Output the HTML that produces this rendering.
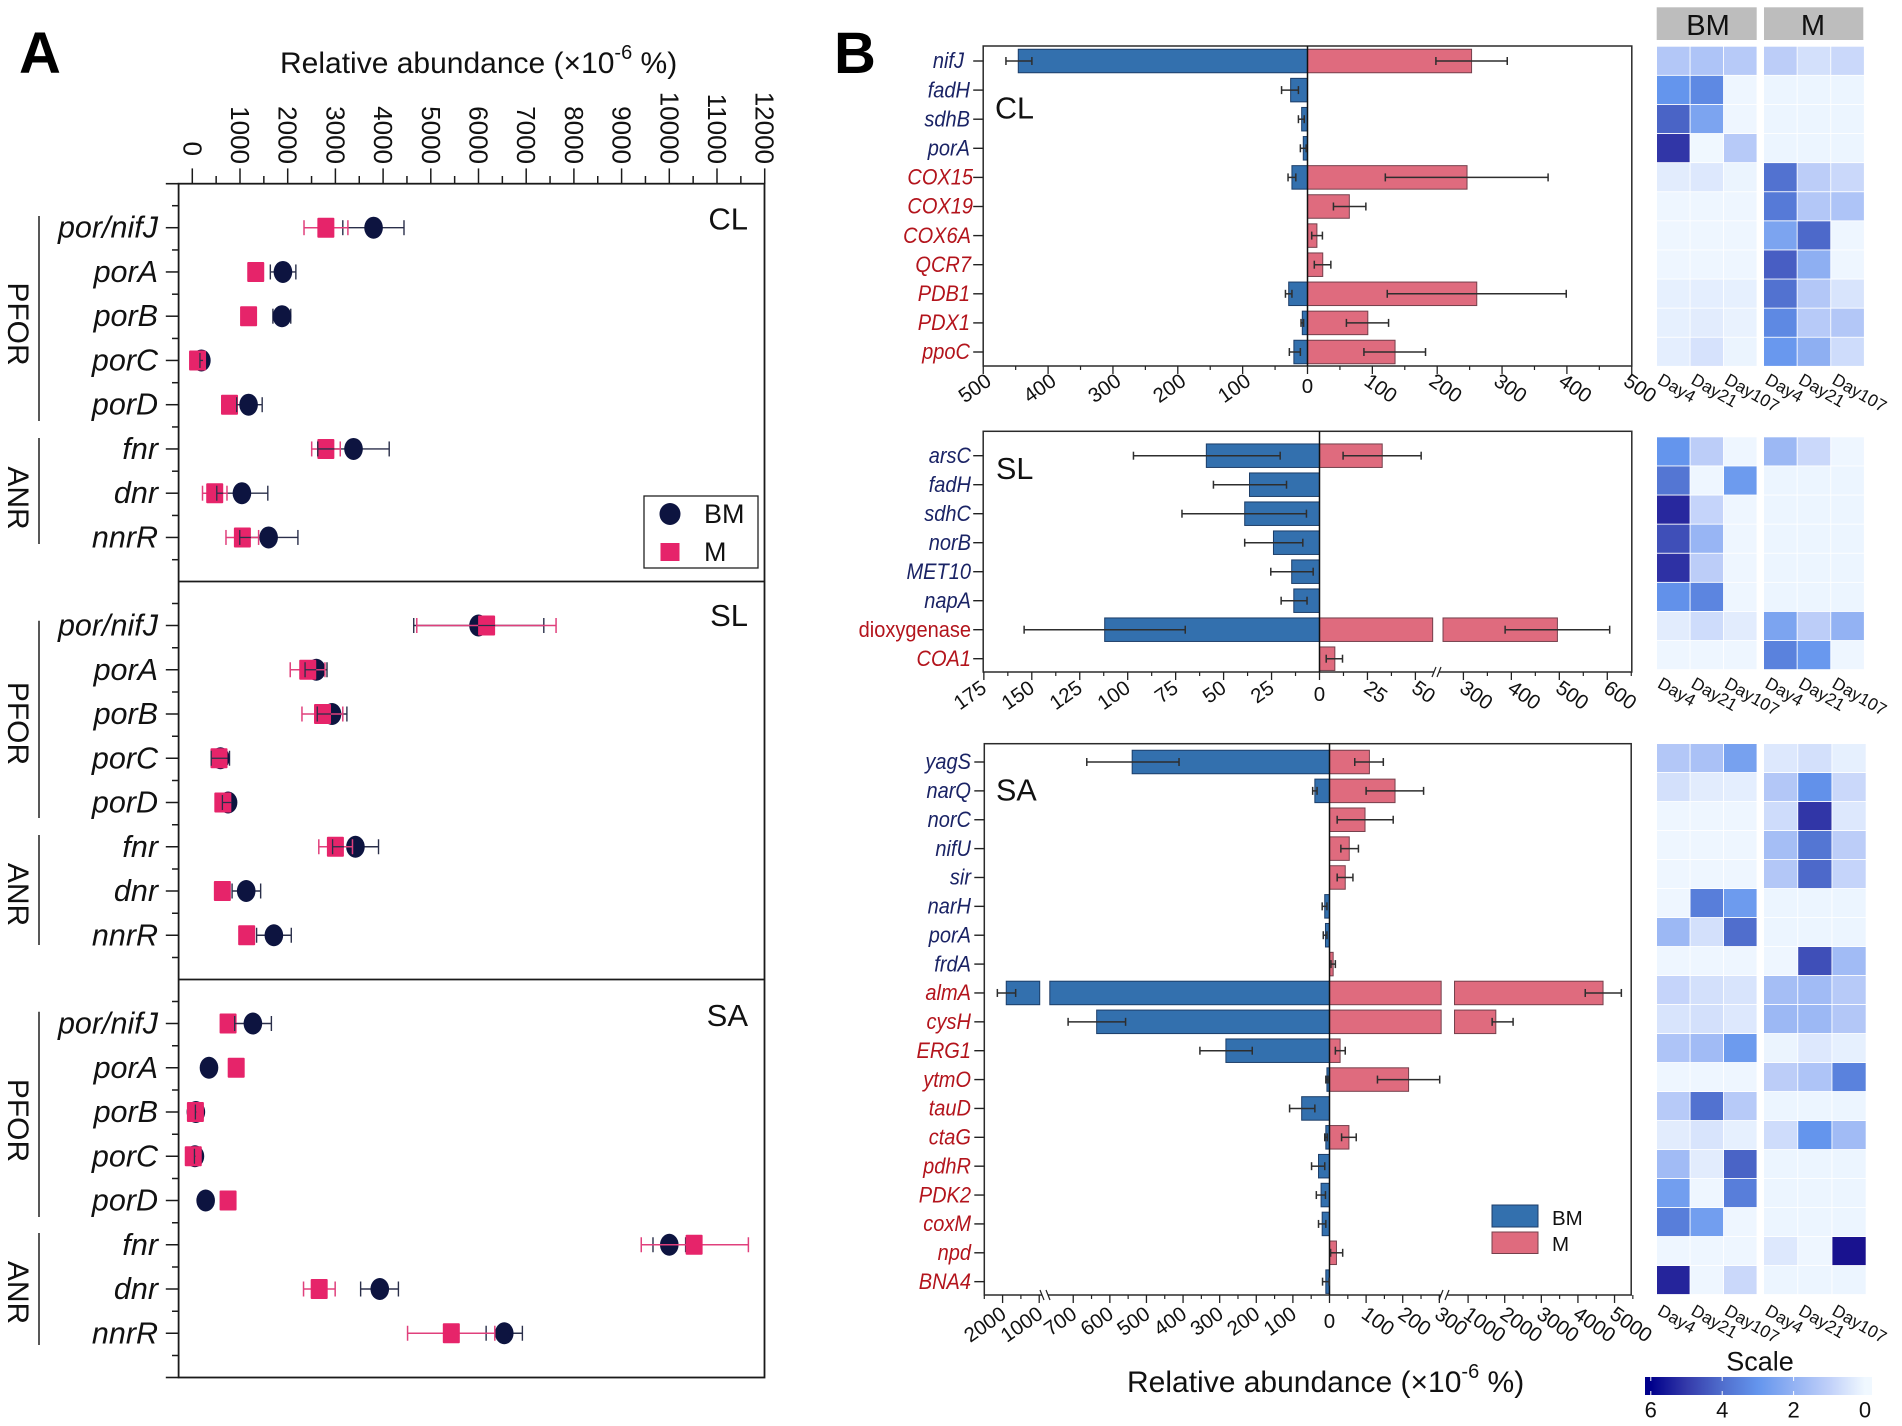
<!DOCTYPE html>
<html lang="en">
<head>
<meta charset="utf-8">
<title>Relative abundance panels A and B</title>
<style>
html,body{margin:0;padding:0;background:#fff;}
svg{display:block;font-family:"Liberation Sans",Arial,sans-serif;}
</style>
</head>
<body>
<svg id="root" width="1902" height="1426" viewBox="0 0 1902 1426">
  <defs><linearGradient id="scaleGrad" gradientUnits="userSpaceOnUse" x1="1645" x2="1872" y1="0" y2="0"></linearGradient></defs>
  <g id="panelA">
    <text x="280" y="73" font-size="30" fill="#111">Relative abundance (×10<tspan font-size="20" dy="-14">-6</tspan><tspan dy="14"> %)</tspan></text>
    <text x="19" y="73" font-size="58" font-weight="bold" fill="#000">A</text>
  </g>
  <g id="panelB">
    <text x="834" y="73" font-size="58" font-weight="bold" fill="#000">B</text>
    <text x="1127" y="1392" font-size="30" fill="#111">Relative abundance (×10<tspan font-size="20" dy="-14">-6</tspan><tspan dy="14"> %)</tspan></text>
  </g>
  <g id="panelHeat"></g>
</svg>
<script>
// ---------- Panel A data ----------
const aGenes = ['por/nifJ','porA','porB','porC','porD','fnr','dnr','nnrR'];
const aTicks = [0,1000,2000,3000,4000,5000,6000,7000,8000,9000,10000,11000,12000];

const clBM = [3800,1900,1880,190,1180,3380,1040,1600];
const clBMLow = [3155,1636,1690,160,930,2631,513,995];
const clBMHigh = [4438,2171,2064,225,1465,4128,1583,2214];
const clM = [2800,1330,1180,110,780,2800,470,1050];
const clMLow = [2342,1330,1180,110,780,2503,214,706];
const clMHigh = [3262,1330,1180,110,780,3102,727,1390];

const slBM = [6000,2600,2930,590,750,3420,1130,1710];
const slBMLow = [4642,2364,2620,396,631,2941,834,1348];
const slBMHigh = [7369,2824,3241,780,866,3904,1433,2075];
const slM = [6170,2420,2730,560,640,3000,630,1140];
const slMLow = [4706,2053,2299,560,588,2652,630,1140];
const slMHigh = [7626,2781,3155,560,695,3358,630,1140];

const saBM = [1270,350,75,55,280,10000,3930,6540];
const saBMLow = [888,350,65,45,280,9658,3529,6160];
const saBMHigh = [1658,350,85,65,280,10342,4321,6920];
const saM = [750,920,65,20,750,10520,2660,5430];
const saMLow = [750,920,65,20,750,9412,2332,4513];
const saMHigh = [750,920,65,20,750,11658,2995,6342];

// ---------- Panel B data: CL ----------
const clBarGenes = ['nifJ','fadH','sdhB','porA','COX15','COX19','COX6A','QCR7','PDB1','PDX1','ppoC'];
const clBarBlueCount = 4;
const clBarBM = [446,26,9,6.5,24,0,0,0,29,8,21];
const clBarBMLow = [425,14,5,2,18,0,0,0,24,6,11];
const clBarBMHigh = [465,40,14,11,30,0,0,0,34,10,28];
const clBarM = [253,0,0,0,246,64.5,14.5,23.5,261,93,135];
const clBarMLow = [198,0,0,0,120,40,6.5,10.5,123,60,87];
const clBarMHigh = [308,0,0,0,371,90,23,36,399,125,182];
const clTickLeft = [500,400,300,200,100];
const clTickRight = [100,200,300,400,500];
const clMinorLeft = [450,350,250,150,50];
const clMinorRight = [50,150,250,350,450];

// ---------- Panel B data: SL ----------
const slBarGenes = ['arsC','fadH','sdhC','norB','MET10','napA','dioxygenase','COA1'];
const slBarBlueCount = 6;
const slBarBM = [59,36.5,39,24,14.5,13.4,112,0];
const slBarBMLow = [20.5,17.2,6.8,8.7,3.3,6.5,70,0];
const slBarBMHigh = [97,55.3,71.7,39,25.4,20,154,0];
const slBarM = [32.7,0,0,0,0,0,496,8];
const slBarMLow = [12.3,0,0,0,0,0,387,3.5];
const slBarMHigh = [53,0,0,0,0,0,605,12];
const slTickLeft = [175,150,125,100,75,50,25];
const slTickRight = [25,50,300,400,500,600];
const slMinorLeft = [162.5,137.5,112.5,87.5,62.5,37.5,12.5];
const slMinorRight = [12.5,37.5,350,450,550,650];

// ---------- Panel B data: SA ----------
const saBarGenes = ['yagS','narQ','norC','nifU','sir','narH','porA','frdA','almA','cysH','ERG1','ytmO','tauD','ctaG','pdhR','PDK2','coxM','npd','BNA4'];
const saBarBlueCount = 8;
const saBarBM = [539,40,0,0,0,13,11,0,1900,636,283,7,76,10,30,23,20,0,10];
const saBarBMLow = [411,34,0,0,0,7,7,0,1643,557,211,4,40,6,13,11,10,0,1];
const saBarBMHigh = [663,46,0,0,0,20,17,0,2143,714,354,10,109,13,49,36,30,0,19];
const saBarM = [109,179,97,54,43,0,0,10,4686,1757,29,216,0,53,0,0,0,19,0];
const saBarMLow = [69,100,21,31,21,0,0,4,4200,1657,16,131,0,33,0,0,0,3,0];
const saBarMHigh = [147,257,174,79,64,0,0,16,5186,2229,43,301,0,73,0,0,0,36,0];
const saTickLeft = [2000,1000,700,600,500,400,300,200,100];
const saTickRight = [100,200,300,1000,2000,3000,4000,5000];
const saMinorLeft = [2500,1500,650,550,450,350,250,150,50];
const saMinorRight = [50,150,250,1500,2500,3500,4500,5500];

// ---------- Heatmap data (one row per gene: Day4, Day21, Day107) ----------
const heatDays = ['Day4','Day21','Day107'];
const scaleTicks = [6,4,2,0];
const clHeatBM = [[1.3,1.4,1.2],[3.0,3.3,.05],[4.2,2.5,.05],[5.1,0,1.2],[.3,.4,.1],[.05,.05,.05],[.05,.05,.05],[.05,.05,.05],[.2,.25,.2],[.2,.3,.15],[.25,.55,.1]];
const clHeatM = [[1.1,.6,.8],[.08,.08,.08],[.08,.08,.08],[.08,.08,.08],[3.9,1.1,.8],[3.7,1.3,1.4],[2.5,4.1,.05],[4.3,2.1,.05],[3.9,1.3,.5],[3.3,1.2,1.3],[2.9,2.1,.7]];
const slHeatBM = [[3.0,1.1,.05],[3.8,.05,2.8],[5.4,.9,.05],[4.6,1.9,.05],[5.2,1.1,.05],[3.1,3.4,.05],[.3,.7,.3],[.05,.05,.05]];
const slHeatM = [[1.8,.8,.05],[.08,.08,.08],[.08,.08,.08],[.08,.08,.08],[.08,.08,.08],[.08,.08,.08],[2.5,1.1,2.0],[3.5,2.9,.05]];
const saHeatBM = [[1.3,1.5,2.6],[.6,.3,.25],[.05,.05,.05],[.05,.05,.05],[.05,.05,.05],[.05,3.6,2.8],[1.8,.6,4.0],[.05,.05,.05],[.9,.6,.5],[.5,.6,.4],[1.4,1.7,2.8],[.05,.05,.05],[1.2,3.9,1.2],[.3,.5,.2],[1.7,.3,4.2],[2.7,.05,3.6],[3.6,2.7,.05],[.05,.05,.05],[5.5,.05,.8]];
const saHeatM = [[.4,.6,.2],[1.3,3.1,.8],[.7,5.1,.4],[1.6,3.8,1.1],[1.3,4.1,.9],[.08,.08,.08],[.08,.08,.08],[.05,4.6,1.7],[1.6,1.7,1.2],[1.8,1.8,1.3],[.1,.4,.2],[1.1,1.4,3.5],[.08,.08,.08],[.7,3.0,1.7],[.08,.08,.08],[.08,.08,.08],[.08,.08,.08],[.4,.05,5.9],[.08,.08,.08]];

// ---------- Helpers ----------
const root = document.getElementById('root');
const NS = root.namespaceURI;
const panelA = document.getElementById('panelA');
const panelB = document.getElementById('panelB');
const panelHeat = document.getElementById('panelHeat');

function mk(tag, parent, name, attrs, txt) {
  const el = document.createElementNS(NS, tag);
  for (const k in attrs) el.setAttribute(k, attrs[k]);
  
  
  if (txt !== undefined) el.textContent = txt;
  parent.appendChild(el);
  return el;
}
function group(parent, name) { return mk('g', parent, name, {}); }
function seg(parent, name, x1, y1, x2, y2, stroke, w) {
  return mk('line', parent, name, {x1:x1, y1:y1, x2:x2, y2:y2, stroke:stroke, 'stroke-width':w});
}
function errH(parent, name, x1, x2, y, capH, stroke, w) {
  if (Math.abs(x2 - x1) < 0.01) return;
  const g = group(parent, name);
  seg(g, name + '-stem', x1, y, x2, y, stroke, w);
  seg(g, name + '-cap-low', x1, y - capH / 2, x1, y + capH / 2, stroke, w);
  seg(g, name + '-cap-high', x2, y - capH / 2, x2, y + capH / 2, stroke, w);
}

// ---------- Panel A ----------
const AX0 = 192.3, AXK = 0.0477;
const xA = v => AX0 + v * AXK;
const A_LEFT = 178.6, A_RIGHT = 764.5, A_STEP = 44.25;
const A_DARK = '#0d1440', A_PINK = '#e6246a', A_AXIS = '#1a1a1a';

function drawAFrame() {
  const g = group(panelA, 'panel-a-axes');
  mk('rect', g, 'panel-a-frame', {x:A_LEFT, y:183.7, width:A_RIGHT - A_LEFT, height:1193.8, fill:'none', stroke:A_AXIS, 'stroke-width':1.8});
  seg(g, 'divider-cl-sl', A_LEFT, 581.5, A_RIGHT, 581.5, A_AXIS, 1.8);
  seg(g, 'divider-sl-sa', A_LEFT, 979.5, A_RIGHT, 979.5, A_AXIS, 1.8);
  seg(g, 'frame-tick-top', 165.8, 183.7, A_LEFT, 183.7, A_AXIS, 1.6);
  seg(g, 'frame-tick-bottom', 165.8, 1377.5, A_LEFT, 1377.5, A_AXIS, 1.6);
  aTicks.forEach((t, i) => {
    const x = xA(t);
    seg(g, 'x-tick-' + t, x, 168.4, x, 183.7, A_AXIS, 1.5);
    if (i < aTicks.length - 1) {
      const mx = xA((t + aTicks[i + 1]) / 2);
      seg(g, 'x-minor-tick-' + t, mx, 176, mx, 183.7, A_AXIS, 1.5);
    }
    const endY = t === 0 ? 156 : 164;
    mk('text', g, 'x-tick-label-' + t, {transform:'translate(' + (x - 9) + ',' + endY + ') rotate(90)', 'font-size':26, 'text-anchor':'end', fill:'#111'}, String(t));
  });
}

function drawASection(label, top, bm, bmLow, bmHigh, m, mLow, mHigh, pforRange, pforLine, anrRange, anrLine, labelY) {
  const g = group(panelA, 'section-' + label);
  mk('text', g, 'section-label-' + label, {x:748, y:labelY, 'font-size':31, 'text-anchor':'end', fill:'#111'}, label);
  const row = i => top + 44 + i * A_STEP;
  for (let i = 0; i <= aGenes.length; i++) {
    const my = top + 22 + i * A_STEP;
    seg(g, 'y-minor-tick', 172, my, A_LEFT, my, A_AXIS, 1.5);
  }
  aGenes.forEach((gene, i) => {
    const y = row(i);
    seg(g, 'y-tick-' + gene, 165.8, y, A_LEFT, y, A_AXIS, 1.5);
    mk('text', g, 'gene-label-' + gene, {x:158, y:y + 10, 'font-size':30.5, 'font-style':'italic', 'text-anchor':'end', fill:'#111'}, gene);
    errH(g, 'error-bm-' + gene, xA(bmLow[i]), xA(bmHigh[i]), y, 15, '#2a2f4a', 1.4);
    mk('ellipse', g, 'point-bm-' + gene, {cx:xA(bm[i]), cy:y, rx:9.3, ry:11, fill:A_DARK});
    errH(g, 'error-m-' + gene, xA(mLow[i]), xA(mHigh[i]), y, 15, '#e0407c', 1.5);
    mk('rect', g, 'point-m-' + gene, {x:xA(m[i]) - 8.5, y:y - 10, width:17, height:20, rx:1, fill:A_PINK});
    const sl = Math.max(xA(m[i]) - 8.5, xA(bmLow[i]));
    const sr = Math.min(xA(m[i]) + 8.5, xA(bmHigh[i]));
    if (sr > sl && bmHigh[i] > bmLow[i]) {
      seg(g, 'error-bm-overlay-' + gene, sl, y, sr, y, '#2a2f4a', 1.3);
      if (xA(bmLow[i]) >= sl && xA(bmLow[i]) <= sr) seg(g, 'error-bm-overlay-cap-' + gene, xA(bmLow[i]), y - 7.5, xA(bmLow[i]), y + 7.5, '#2a2f4a', 1.3);
    }
  });
  const groupLabel = (name, range, ln) => {
    mk('text', g, 'group-label-' + name, {transform:'translate(8,' + ((range[0] + range[1]) / 2 - 1) + ') rotate(90)', 'font-size':30, 'text-anchor':'middle', fill:'#111'}, name);
    seg(g, 'group-line-' + name, 39, ln[0], 39, ln[1], '#111', 1.4);
  };
  groupLabel('PFOR', pforRange, pforLine);
  groupLabel('ANR', anrRange, anrLine);
}

function drawALegend() {
  const g = group(panelA, 'panel-a-legend');
  mk('rect', g, 'legend-box', {x:644, y:496, width:114, height:72, fill:'#fff', stroke:'#222', 'stroke-width':1.3});
  mk('ellipse', g, 'legend-marker-bm', {cx:670, cy:514, rx:10.5, ry:11, fill:A_DARK});
  mk('rect', g, 'legend-marker-m', {x:660.5, y:543, width:19, height:18, fill:A_PINK});
  mk('text', g, 'legend-label-bm', {x:704, y:523, 'font-size':27, fill:'#111'}, 'BM');
  mk('text', g, 'legend-label-m', {x:704, y:561, 'font-size':27, fill:'#111'}, 'M');
}

drawAFrame();
drawASection('CL', 183.7, clBM, clBMLow, clBMHigh, clM, clMLow, clMHigh, [285,365], [216,421], [468,530], [438,544], 229.6);
drawASection('SL', 581.5, slBM, slBMLow, slBMHigh, slM, slMLow, slMHigh, [684,765], [620.7,818], [865,926], [835,945], 626);
drawASection('SA', 979.5, saBM, saBMLow, saBMHigh, saM, saMLow, saMHigh, [1081,1162], [1011.7,1217], [1263,1324], [1233,1345], 1026);
drawALegend();

// ---------- Panel B axis functions ----------
function linearLeft(zero, k) { return v => zero - v * k; }
function linearRight(zero, k) { return v => zero + v * k; }
function brokenLeft(zero, k, refV, refX, k2, lowEnd) {
  return v => v <= lowEnd ? zero - v * k : refX - (v - refV) * k2;
}
function brokenRight(zero, k, refV, refX, k2, lowEnd) {
  return v => v <= lowEnd ? zero + v * k : refX + (v - refV) * k2;
}

const BLUE_BAR = '#3370ae', BLUE_EDGE = '#1c3d68', PINK_BAR = '#df6b7e', PINK_EDGE = '#74404c';
const BLUE_TXT = '#1a2365', RED_TXT = '#b3141c', ERR = '#2e2e2e';

function drawBar(g, name, zero, fn, v, y, h, fill, edge, gapLow, gapHigh) {
  if (!v) return;
  const rectBetween = (nm, a, b) => mk('rect', g, nm, {x:Math.min(a, b), y:y - h / 2, width:Math.abs(b - a), height:h, fill:fill, stroke:edge, 'stroke-width':1});
  if (gapLow !== null && v > gapLow) {
    rectBetween(name + '-low', zero, fn(gapLow));
    rectBetween(name + '-high', fn(gapHigh), fn(v));
  } else {
    rectBetween(name, zero, fn(v));
  }
}

function drawBarPanel(p) {
  const g = group(panelB, 'bar-panel-' + p.label);
  mk('rect', g, 'frame-' + p.label, {x:p.left, y:p.top, width:p.right - p.left, height:p.bottom - p.top, fill:'none', stroke:'#2b2b2b', 'stroke-width':1.5});
  mk('text', g, 'panel-label-' + p.label, {x:p.labelX, y:p.labelY, 'font-size':30.5, fill:'#111'}, p.label);
  p.genes.forEach((gene, i) => {
    const y = p.rowY + i * p.step;
    const isBlue = i < p.blueCount;
    seg(g, 'y-tick-' + gene, p.left - 10, y, p.left, y, '#222', 1.4);
    const nudge = (p.nudge && p.nudge[gene]) || 0;
    mk('text', g, 'gene-label-' + gene, {transform:'translate(' + (p.geneRight + nudge) + ',' + (y + 7.2) + ') scale(0.91,1)', 'font-size':22, 'font-style':gene === 'dioxygenase' ? 'normal' : 'italic', 'text-anchor':'end', fill:isBlue ? BLUE_TXT : RED_TXT}, gene);
    drawBar(g, 'bar-bm-' + gene, p.zero, p.fnL, p.bm[i], y, p.barH, BLUE_BAR, BLUE_EDGE, p.gapL[0], p.gapL[1]);
    drawBar(g, 'bar-m-' + gene, p.zero, p.fnR, p.m[i], y, p.barH, PINK_BAR, PINK_EDGE, p.gapR[0], p.gapR[1]);
  });
  seg(g, 'zero-line-' + p.label, p.zero, p.top, p.zero, p.bottom, '#111', 1.5);
  p.genes.forEach((gene, i) => {
    const y = p.rowY + i * p.step;
    if (p.bm[i]) errH(g, 'error-bm-' + gene, p.fnL(p.bmLow[i]), p.fnL(p.bmHigh[i]), y, 8, ERR, 1.5);
    if (p.m[i]) errH(g, 'error-m-' + gene, p.fnR(p.mLow[i]), p.fnR(p.mHigh[i]), y, 8, ERR, 1.5);
  });
  // x axis ticks
  const tickMajor = (x, nm) => seg(g, nm, x, p.bottom, x, p.bottom + 8, '#222', 1.3);
  const tickMinor = (x, nm) => seg(g, nm, x, p.bottom, x, p.bottom + 4, '#222', 1.2);
  tickMajor(p.zero, 'x-tick-zero-' + p.label);
  mk('text', g, 'x-tick-label-zero-' + p.label, {x:p.zero, y:p.bottom + p.zeroDy, 'font-size':20.5, 'text-anchor':'middle', fill:'#111'}, '0');
  p.ticksL.forEach(t => {
    const x = p.fnL(t);
    tickMajor(x, 'x-tick-left-' + t);
    mk('text', g, 'x-tick-label-left-' + t, {transform:'translate(' + (x + p.ldx) + ',' + (p.bottom + p.ldy) + ') rotate(-35)', 'font-size':20.5, 'text-anchor':'end', fill:'#111'}, String(t));
  });
  p.ticksR.forEach(t => {
    const x = p.fnR(t);
    tickMajor(x, 'x-tick-right-' + t);
    mk('text', g, 'x-tick-label-right-' + t, {transform:'translate(' + (x + p.rdx) + ',' + (p.bottom + p.ldy) + ') rotate(35)', 'font-size':20.5, 'text-anchor':'start', fill:'#111'}, String(t));
  });
  p.minorL.forEach(t => tickMinor(p.fnL(t), 'x-minor-tick-left-' + t));
  p.minorR.forEach(t => tickMinor(p.fnR(t), 'x-minor-tick-right-' + t));
  p.breaks.forEach((b, i) => {
    mk('rect', g, 'axis-break-gap-' + p.label + '-' + i, {x:b.x, y:p.bottom - 2, width:b.w, height:4, fill:'#fff'});
    const d = b.dir;
    seg(g, 'axis-break-slash-' + p.label + '-' + i + 'a', b.x - d * 2, p.bottom + 5, b.x + d * 2, p.bottom - 5, '#222', 1.2);
    seg(g, 'axis-break-slash-' + p.label + '-' + i + 'b', b.x + b.w - d * 2, p.bottom + 5, b.x + b.w + d * 2, p.bottom - 5, '#222', 1.2);
  });
}

drawBarPanel({label:'CL', left:983.2, right:1631.8, top:46, bottom:366, zero:1307.5,
  fnL:linearLeft(1307.5,0.6485), fnR:linearRight(1307.5,0.6485), gapL:[null,null], gapR:[null,null],
  genes:clBarGenes, blueCount:clBarBlueCount, bm:clBarBM, bmLow:clBarBMLow, bmHigh:clBarBMHigh, m:clBarM, mLow:clBarMLow, mHigh:clBarMHigh,
  ticksL:clTickLeft, ticksR:clTickRight, minorL:clMinorLeft, minorR:clMinorRight,
  rowY:61, step:29.1, barH:23.5, geneRight:970, nudge:{nifJ:-6, COX15:3, COX19:3, COX6A:1, QCR7:1}, labelX:995, labelY:118.3, ldx:9.5, rdx:-9.5, ldy:18, zeroDy:27, breaks:[]});

drawBarPanel({label:'SL', left:983.2, right:1631.8, top:431.3, bottom:672, zero:1319.5,
  fnL:linearLeft(1319.5,1.918), fnR:brokenRight(1319.5,1.918,300,1463.4,0.4796,59), gapL:[null,null], gapR:[59,257.5],
  genes:slBarGenes, blueCount:slBarBlueCount, bm:slBarBM, bmLow:slBarBMLow, bmHigh:slBarBMHigh, m:slBarM, mLow:slBarMLow, mHigh:slBarMHigh,
  ticksL:slTickLeft, ticksR:slTickRight, minorL:slMinorLeft, minorR:slMinorRight,
  rowY:455.7, step:29, barH:23.5, geneRight:971, labelX:996, labelY:479, ldx:4, rdx:-5, ldy:19, zeroDy:29, breaks:[{x:1434,w:5,dir:1}]});

drawBarPanel({label:'SA', left:984.3, right:1631.2, top:743.7, bottom:1295, zero:1329.5,
  fnL:brokenLeft(1329.5,0.3661,1000,1039.2,0.03661,764), fnR:brokenRight(1329.5,0.3661,1000,1468.1,0.03661,305), gapL:[764,986], gapR:[305,629],
  genes:saBarGenes, blueCount:saBarBlueCount, bm:saBarBM, bmLow:saBarBMLow, bmHigh:saBarBMHigh, m:saBarM, mLow:saBarMLow, mHigh:saBarMHigh,
  ticksL:saTickLeft, ticksR:saTickRight, minorL:saMinorLeft, minorR:saMinorRight,
  rowY:762, step:28.87, barH:23.5, geneRight:971, labelX:996, labelY:800.7, ldx:5, rdx:-6, ldy:22, zeroDy:33, breaks:[{x:1042,w:6,dir:-1},{x:1441,w:6,dir:1}]});

function drawBLegend() {
  const g = group(panelB, 'panel-b-legend');
  mk('rect', g, 'legend-swatch-bm', {x:1492, y:1205, width:46, height:22, fill:BLUE_BAR, stroke:BLUE_EDGE, 'stroke-width':1});
  mk('rect', g, 'legend-swatch-m', {x:1492, y:1232, width:46, height:21.5, fill:PINK_BAR, stroke:PINK_EDGE, 'stroke-width':1});
  mk('text', g, 'legend-label-bm', {x:1552, y:1225, 'font-size':20.5, fill:'#111'}, 'BM');
  mk('text', g, 'legend-label-m', {x:1552, y:1251, 'font-size':20.5, fill:'#111'}, 'M');
}
drawBLegend();

// ---------- Heatmap ----------
const RAMP = [[240,248,255],[192,208,249],[147,178,243],[100,149,237],[80,110,205],[52,58,170],[22,14,140]];
function heatColor(v) {
  const t = Math.max(0, Math.min(6, v));
  const i = Math.min(5, Math.floor(t));
  const f = t - i;
  const a = RAMP[i];
  const b = RAMP[i + 1];
  return 'rgb(' + a.map((c, k) => Math.round(c + (b[k] - c) * f)).join(',') + ')';
}

function drawHeat(label, genes, top, step, dataBM, dataM, mW, dayY) {
  const g = group(panelHeat, 'heatmap-' + label);
  genes.forEach((gene, r) => {
    heatDays.forEach((day, c) => {
      mk('rect', g, 'cell-bm-' + gene + '-' + day, {x:1657 + c * 33.5, y:top + r * step, width:32.6, height:step - 0.9, fill:heatColor(dataBM[r][c])});
      mk('rect', g, 'cell-m-' + gene + '-' + day, {x:1764 + c * mW, y:top + r * step, width:mW - 0.9, height:step - 0.9, fill:heatColor(dataM[r][c])});
    });
  });
  [1656.5, 1764].forEach((x0, s) => {
    heatDays.forEach((day, c) => {
      mk('text', g, 'day-label-' + label + '-' + (s ? 'm' : 'bm') + '-' + day, {transform:'translate(' + (x0 + c * 33.5) + ',' + dayY + ') rotate(30)', 'font-size':17.2, fill:'#111'}, day);
    });
  });
}

function drawHeatHeaders() {
  const g = group(panelHeat, 'heatmap-headers');
  mk('rect', g, 'header-bm-bg', {x:1656.7, y:7.3, width:100, height:32.7, fill:'#bdbdbd'});
  mk('rect', g, 'header-m-bg', {x:1764, y:7.3, width:99.3, height:32.7, fill:'#bdbdbd'});
  mk('text', g, 'header-bm', {x:1708, y:35, 'font-size':29, 'text-anchor':'middle', fill:'#111'}, 'BM');
  mk('text', g, 'header-m', {x:1813, y:35, 'font-size':29, 'text-anchor':'middle', fill:'#111'}, 'M');
}

function drawScale() {
  const g = group(panelHeat, 'color-scale');
  const sx = v => 1865 - v * 35.7;
  const grad = document.getElementById('scaleGrad');
  [0, 1, 2, 3, 4, 5, 6].reverse().forEach(v => {
    const st = document.createElementNS(NS, 'stop');
    st.setAttribute('offset', (sx(v) - 1645) / 227);
    st.setAttribute('stop-color', v === 6 ? '#00008b' : heatColor(v));
    grad.appendChild(st);
  });
  mk('text', g, 'scale-title', {x:1760, y:1370.7, 'font-size':27, 'text-anchor':'middle', fill:'#111'}, 'Scale');
  mk('rect', g, 'scale-bar', {x:1645, y:1377, width:227, height:18, fill:'url(#scaleGrad)'});
  scaleTicks.forEach(t => {
    const x = sx(t);
    if (t > 0) {
      seg(g, 'scale-tick-top-' + t, x, 1377, x, 1381, '#fff', 1);
      seg(g, 'scale-tick-bottom-' + t, x, 1391, x, 1395, '#fff', 1);
    }
    mk('text', g, 'scale-label-' + t, {x:x, y:1417.7, 'font-size':22, 'text-anchor':'middle', fill:'#111'}, String(t));
  });
}

drawHeatHeaders();
drawHeat('CL', clBarGenes, 46.7, 29.1, clHeatBM, clHeatM, 33.6, 383);
drawHeat('SL', slBarGenes, 437.3, 29.1, slHeatBM, slHeatM, 33.6, 686.7);
drawHeat('SA', saBarGenes, 744, 29.0, saHeatBM, saHeatM, 34.2, 1314);
drawScale();
</script>
</body>
</html>
